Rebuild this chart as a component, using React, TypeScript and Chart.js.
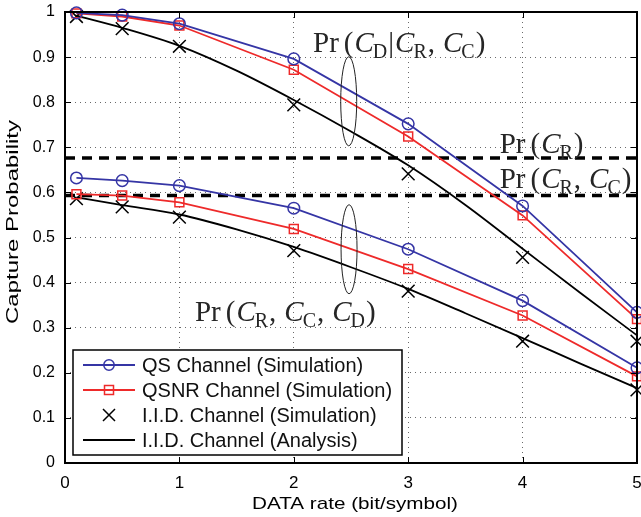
import React, { useEffect, useRef } from 'react';
import { Chart, registerables } from 'chart.js';

Chart.register(...registerables);

// ---------------- data ----------------
const RATES = [0.1, 0.5, 1, 2, 3, 4, 5];
const QS_UPPER = [0.998, 0.993, 0.974, 0.896, 0.752, 0.57, 0.334];
const QSNR_UPPER = [0.997, 0.99, 0.97, 0.872, 0.724, 0.549, 0.319];
const IID_SIM_UPPER = [0.99, 0.963, 0.924, 0.794, 0.641, 0.456, 0.27];
const QS_LOWER = [0.632, 0.626, 0.615, 0.565, 0.474, 0.36, 0.211];
const QSNR_LOWER = [0.596, 0.593, 0.578, 0.519, 0.43, 0.327, 0.192];
const IID_SIM_LOWER = [0.586, 0.568, 0.545, 0.471, 0.381, 0.27, 0.162];

const ANALYSIS_RATES = [0.1, 0.5, 1, 1.5, 2, 2.5, 3, 3.5, 4, 4.5, 5];
const IID_ANA_UPPER = [0.992, 0.965, 0.925, 0.87, 0.805, 0.735, 0.66, 0.572, 0.475, 0.378, 0.283];
const IID_ANA_LOWER = [0.589, 0.572, 0.551, 0.518, 0.479, 0.434, 0.386, 0.332, 0.277, 0.221, 0.166];

const PR_CR = 0.676;
const PR_CR_CC = 0.593;
const DASH_RANGE = [0, 5];

const X_TICKS = [0, 1, 2, 3, 4, 5];
const Y_TICKS = [0, 0.1, 0.2, 0.3, 0.4, 0.5, 0.6, 0.7, 0.8, 0.9, 1];
const Y_TICK_LABELS = ['0', '0.1', '0.2', '0.3', '0.4', '0.5', '0.6', '0.7', '0.8', '0.9', '1'];

const LEGEND_LABELS = [
  'QS Channel (Simulation)',
  'QSNR Channel (Simulation)',
  'I.I.D. Channel (Simulation)',
  'I.I.D. Channel (Analysis)',
];

const X_TITLE = 'DATA rate (bit/symbol)';
const Y_TITLE = 'Capture Probability';

type Piece = [string, 'n' | 'i' | 's' | 'g' | 'c'];
const LABEL_COND: Piece[] = [['Pr', 'n'], ['', 'g'], ['(', 'n'], ['C', 'i'], ['D', 's'], ['|', 'n'], ['C', 'i'], ['R', 's'], [',', 'c'], ['C', 'i'], ['C', 's'], [')', 'n']];
const LABEL_CR: Piece[] = [['Pr', 'n'], ['', 'g'], ['(', 'n'], ['C', 'i'], ['R', 's'], [')', 'n']];
const LABEL_CR_CC: Piece[] = [['Pr', 'n'], ['', 'g'], ['(', 'n'], ['C', 'i'], ['R', 's'], [',', 'c'], ['C', 'i'], ['C', 's'], [')', 'n']];
const LABEL_JOINT: Piece[] = [['Pr', 'n'], ['', 'g'], ['(', 'n'], ['C', 'i'], ['R', 's'], [',', 'c'], ['C', 'i'], ['C', 's'], [',', 'c'], ['C', 'i'], ['D', 's'], [')', 'n']];

// annotation anchors (data units): left x, baseline y
const ANNOTATIONS: { pieces: Piece[]; x: number; y: number }[] = [
  { pieces: LABEL_COND, x: 2.168, y: 0.911 },
  { pieces: LABEL_CR, x: 3.8, y: 0.688 },
  { pieces: LABEL_CR_CC, x: 3.8, y: 0.61 },
  { pieces: LABEL_JOINT, x: 1.136, y: 0.315 },
];
// ellipse centres (data units)
const ELLIPSES = [
  { x: 2.48, y: 0.802 },
  { x: 2.483, y: 0.474 },
];

// ---------------- styles ----------------
const BLUE = '#3535a5';
const RED = '#ee2a2a';
const BLACK = '#000000';
const SANS = '"Liberation Sans", Arial, Helvetica, sans-serif';
const SERIF = '"Liberation Serif", "Times New Roman", serif';
const TEXT_COLOR = '#262626';

const pts = (xs: number[], ys: number[]) => xs.map((x, i) => ({ x, y: ys[i] }));

function drawRich(ctx: CanvasRenderingContext2D, pieces: Piece[], x0: number, base: number) {
  let x = x0;
  ctx.fillStyle = TEXT_COLOR;
  ctx.textBaseline = 'alphabetic';
  ctx.textAlign = 'left';
  for (const [t, s] of pieces) {
    if (s === 'g') { x += 5; continue; }
    if (s === 's') {
      ctx.font = `20px ${SERIF}`;
      ctx.fillText(t, x - 1, base + 6);
      x += ctx.measureText(t).width;
      continue;
    }
    if (s === 'i') {
      ctx.font = `italic 29px ${SERIF}`;
      ctx.fillText(t, x + 1, base);
      x += ctx.measureText(t).width + 1;
      continue;
    }
    ctx.font = `29px ${SERIF}`;
    ctx.fillText(t, x, base);
    x += ctx.measureText(t).width;
    if (s === 'c') x += 7;
  }
}

function drawStretched(ctx: CanvasRenderingContext2D, text: string, cx: number, cy: number, font: string, targetW: number, rotate: boolean) {
  ctx.save();
  ctx.font = font;
  ctx.fillStyle = '#000';
  ctx.textAlign = 'center';
  ctx.textBaseline = 'middle';
  const w = ctx.measureText(text).width;
  ctx.translate(cx, cy);
  if (rotate) ctx.rotate(-Math.PI / 2);
  ctx.scale(targetW / w, 1);
  ctx.fillText(text, 0, 0);
  ctx.restore();
}

const overlay = {
  id: 'overlay',
  afterDraw(chart: any) {
    const { ctx, chartArea: ca, scales } = chart;
    const xs = scales.x;
    const ys = scales.y;
    ctx.save();

    // ellipses
    ctx.strokeStyle = '#222';
    ctx.lineWidth = 1;
    for (const e of ELLIPSES) {
      ctx.beginPath();
      ctx.ellipse(xs.getPixelForValue(e.x), ys.getPixelForValue(e.y), 8, 44.5, 0, 0, Math.PI * 2);
      ctx.stroke();
    }

    // annotation text
    for (const a of ANNOTATIONS) {
      drawRich(ctx, a.pieces, xs.getPixelForValue(a.x), ys.getPixelForValue(a.y));
    }

    // axis titles
    drawStretched(ctx, X_TITLE, (ca.left + ca.right) / 2 + 4, 504, `17px ${SANS}`, 206, false);
    drawStretched(ctx, Y_TITLE, 13, 222, `17px ${SANS}`, 204, true);

    // frame and inward ticks
    ctx.strokeStyle = BLACK;
    ctx.lineWidth = 1;
    for (const v of Y_TICKS) {
      const py = Math.round(ys.getPixelForValue(v)) + 0.5;
      ctx.beginPath();
      ctx.moveTo(ca.left, py); ctx.lineTo(ca.left + 6, py);
      ctx.moveTo(ca.right, py); ctx.lineTo(ca.right - 6, py);
      ctx.stroke();
    }
    for (const v of X_TICKS) {
      const px = Math.round(xs.getPixelForValue(v)) + 0.5;
      ctx.beginPath();
      ctx.moveTo(px, ca.bottom); ctx.lineTo(px, ca.bottom - 6);
      ctx.moveTo(px, ca.top); ctx.lineTo(px, ca.top + 6);
      ctx.stroke();
    }
    ctx.lineWidth = 2;
    ctx.strokeRect(ca.left, ca.top, ca.right - ca.left, ca.bottom - ca.top);

    // legend
    const lx = 73, ly = 350, lw = 329, lh = 105;
    ctx.fillStyle = '#fff';
    ctx.fillRect(lx, ly, lw, lh);
    ctx.lineWidth = 1.5;
    ctx.strokeStyle = BLACK;
    ctx.strokeRect(lx, ly, lw, lh);
    const rowY = [365, 390, 415, 440];
    const sx0 = 83, sx1 = 135, mx = 109;
    ctx.font = `20px ${SANS}`;
    ctx.textBaseline = 'middle';
    ctx.textAlign = 'left';
    rowY.forEach((ry, i) => {
      ctx.lineWidth = 1.8;
      if (i === 0 || i === 1 || i === 3) {
        ctx.strokeStyle = i === 0 ? BLUE : i === 1 ? RED : BLACK;
        ctx.beginPath();
        ctx.moveTo(sx0, ry); ctx.lineTo(sx1, ry);
        ctx.stroke();
      }
      ctx.lineWidth = 1.5;
      if (i === 0) {
        ctx.strokeStyle = BLUE;
        ctx.beginPath(); ctx.arc(mx, ry, 5.2, 0, Math.PI * 2); ctx.stroke();
      } else if (i === 1) {
        ctx.strokeStyle = RED;
        ctx.strokeRect(mx - 4.5, ry - 4.5, 9, 9);
      } else if (i === 2) {
        ctx.strokeStyle = BLACK;
        ctx.beginPath();
        ctx.moveTo(mx - 6, ry - 6); ctx.lineTo(mx + 6, ry + 6);
        ctx.moveTo(mx + 6, ry - 6); ctx.lineTo(mx - 6, ry + 6);
        ctx.stroke();
      }
      ctx.fillStyle = '#111';
      ctx.fillText(LEGEND_LABELS[i], 142, ry + 1);
    });

    ctx.restore();
  },
};

export default function App() {
  const ref = useRef<HTMLCanvasElement | null>(null);
  useEffect(() => {
    if (!ref.current) return;
    const circleStyle = {
      borderColor: BLUE, backgroundColor: 'rgba(0,0,0,0)', borderWidth: 1.8,
      pointStyle: 'circle', pointRadius: 5.8, pointBorderWidth: 1.5, pointBorderColor: BLUE,
      pointBackgroundColor: 'rgba(0,0,0,0)', tension: 0, clip: false as any,
    };
    const rectStyle = {
      borderColor: RED, backgroundColor: 'rgba(0,0,0,0)', borderWidth: 1.8,
      pointStyle: 'rect', pointRadius: 6.3, pointBorderWidth: 1.5, pointBorderColor: RED,
      pointBackgroundColor: 'rgba(0,0,0,0)', tension: 0, clip: false as any,
    };
    const crossStyle = {
      borderColor: BLACK, backgroundColor: 'rgba(0,0,0,0)', showLine: false,
      pointStyle: 'crossRot', pointRadius: 9, pointBorderWidth: 1.5, pointBorderColor: BLACK,
      clip: false as any,
    };
    const anaStyle = {
      borderColor: BLACK, backgroundColor: 'rgba(0,0,0,0)', borderWidth: 1.8, pointRadius: 0,
      cubicInterpolationMode: 'monotone', clip: false as any,
    };
    const dashStyle = {
      borderColor: BLACK, backgroundColor: 'rgba(0,0,0,0)', borderWidth: 3.5, borderDash: [10, 7],
      pointRadius: 0, clip: false as any,
    };
    const chart = new Chart(ref.current, {
      type: 'line',
      data: {
        datasets: [
          { label: LEGEND_LABELS[0], data: pts(RATES, QS_UPPER), ...circleStyle },
          { label: LEGEND_LABELS[0], data: pts(RATES, QS_LOWER), ...circleStyle },
          { label: LEGEND_LABELS[1], data: pts(RATES, QSNR_UPPER), ...rectStyle },
          { label: LEGEND_LABELS[1], data: pts(RATES, QSNR_LOWER), ...rectStyle },
          { label: LEGEND_LABELS[2], data: pts(RATES, IID_SIM_UPPER), ...crossStyle },
          { label: LEGEND_LABELS[2], data: pts(RATES, IID_SIM_LOWER), ...crossStyle },
          { label: LEGEND_LABELS[3], data: pts(ANALYSIS_RATES, IID_ANA_UPPER), ...anaStyle },
          { label: LEGEND_LABELS[3], data: pts(ANALYSIS_RATES, IID_ANA_LOWER), ...anaStyle },
          { label: 'Pr(CR)', data: pts(DASH_RANGE, [PR_CR, PR_CR]), ...dashStyle },
          { label: 'Pr(CR,CC)', data: pts(DASH_RANGE, [PR_CR_CC, PR_CR_CC]), ...dashStyle },
        ] as any,
      },
      options: {
        animation: false,
        responsive: true,
        maintainAspectRatio: false,
        layout: { autoPadding: false, padding: { top: 12, right: 4, left: 0, bottom: 0 } },
        plugins: { legend: { display: false }, tooltip: { enabled: false } },
        scales: {
          x: {
            type: 'linear', min: 0, max: 5,
            afterBuildTicks: (s: any) => { s.ticks = X_TICKS.map((v) => ({ value: v })); },
            afterFit: (s: any) => { s.height = 54; s.paddingLeft = 0; s.paddingRight = 0; },
            grid: { color: '#6a6a6a', lineWidth: 1, drawTicks: false },
            border: { display: false, dash: [1, 4] },
            ticks: { color: '#000', font: { family: SANS, size: 17 }, padding: 10, maxRotation: 0, callback: (v: any) => String(v) },
            title: { display: false },
          },
          y: {
            type: 'linear', min: 0, max: 1,
            afterBuildTicks: (s: any) => { s.ticks = Y_TICKS.map((v) => ({ value: v })); },
            afterFit: (s: any) => { s.width = 65; s.paddingTop = 0; s.paddingBottom = 0; },
            grid: { color: '#6a6a6a', lineWidth: 1, drawTicks: false },
            border: { display: false, dash: [1, 4] },
            ticks: {
              color: '#000', font: { family: SANS, size: 16 }, padding: 10,
              callback: (_v: any, i: number) => Y_TICK_LABELS[i],
            },
            title: { display: false },
          },
        },
      } as any,
      plugins: [overlay],
    });
    return () => chart.destroy();
  }, []);
  return (
    <div style={{ position: 'fixed', left: 0, top: 0, width: 641, height: 517, background: '#fff' }}>
      <canvas ref={ref} />
    </div>
  );
}
